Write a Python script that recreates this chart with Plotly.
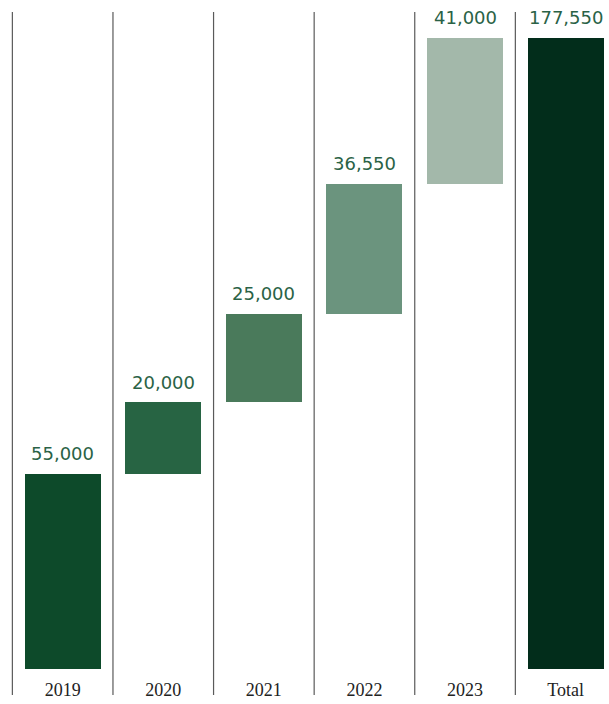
import plotly.graph_objects as go

categories = ["2019", "2020", "2021", "2022", "2023", "Total"]
values = [55000, 20000, 25000, 36550, 41000, 177550]
labels = ["55,000", "20,000", "25,000", "36,550", "41,000", "177,550"]
colors = ["#0d4a2a", "#276443", "#4a7a5b", "#6b947e", "#a3b8aa", "#022d1b"]

# waterfall bases: yearly steps stack on one another, total starts at zero
bases = []
running = 0
for c, v in zip(categories, values):
    if c == "Total":
        bases.append(0)
    else:
        bases.append(running)
        running += v
tops = [b + v for b, v in zip(bases, values)]

fig = go.Figure()
fig.add_trace(go.Bar(
    x=list(range(len(categories))),
    y=values,
    base=bases,
    width=0.755,
    marker=dict(color=colors, line=dict(width=0)),
    hoverinfo="skip",
))

for i, (t, lab) in enumerate(zip(tops, labels)):
    fig.add_annotation(
        x=i, y=t, text=lab, showarrow=False,
        xanchor="center", yanchor="middle", yshift=20,
        font=dict(family="DejaVu Sans", size=18, color="#2a6246"),
    )

for i in range(len(categories)):
    fig.add_shape(
        type="line", xref="x", yref="paper",
        x0=i - 0.5, x1=i - 0.5, y0=-0.0396, y1=1.0,
        line=dict(color="#5a5a5a", width=1.2),
    )

fig.update_layout(
    width=609, height=704,
    margin=dict(l=0, r=0, t=12, b=35),
    paper_bgcolor="white", plot_bgcolor="white",
    showlegend=False,
    bargap=0,
    xaxis=dict(
        range=[-0.623, 5.431],
        tickmode="array",
        tickvals=list(range(len(categories))),
        ticktext=categories,
        showgrid=False, zeroline=False, showline=False, ticks="",
        ticklabelstandoff=8,
        tickfont=dict(family="Liberation Serif", size=18, color="#222222"),
        fixedrange=True,
    ),
    yaxis=dict(
        range=[0, 184860],
        visible=False, showgrid=False, zeroline=False,
        fixedrange=True,
    ),
)

fig.write_html(
    "out.html",
    config={"displayModeBar": False},
    post_script="document.body.style.margin='0';document.body.style.overflow='hidden';",
)
